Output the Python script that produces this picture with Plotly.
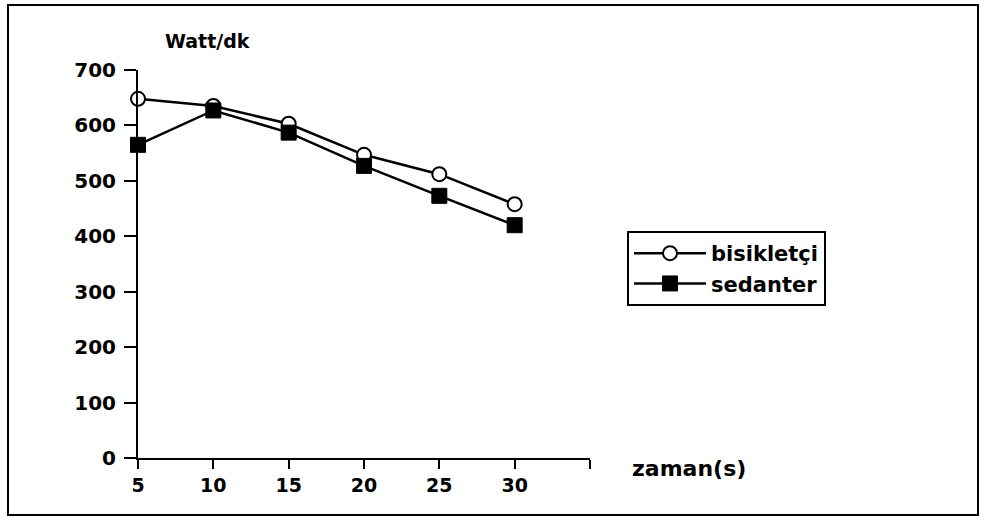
import plotly.graph_objects as go

zaman = [5, 10, 15, 20, 25, 30]
bisikletci = [648, 635, 603, 547, 512, 458]
sedanter = [565, 627, 587, 527, 473, 420]
x_tickvals = [5, 10, 15, 20, 25, 30, 35]
x_ticktext = ["5", "10", "15", "20", "25", "30", ""]
y_tickvals = [0, 100, 200, 300, 400, 500, 600, 700]

FONT = "DejaVu Sans, Arial, sans-serif"

fig = go.Figure()
fig.add_trace(go.Scatter(
    x=zaman, y=bisikletci, name="bisikletçi", mode="lines+markers",
    line=dict(color="black", width=2.5), cliponaxis=False,
    marker=dict(symbol="circle", size=14, color="white", line=dict(color="black", width=2)),
))
fig.add_trace(go.Scatter(
    x=zaman, y=sedanter, name="sedanter", mode="lines+markers",
    line=dict(color="black", width=2.5), cliponaxis=False,
    marker=dict(symbol="square", size=15, color="black", line=dict(color="black", width=1)),
))

L, R, T, B = 138, 590, 70, 458
W, H = 983, 523

def px2x(px):
    return (px - L) / (R - L)

def py2y(py):
    return (B - py) / (B - T)

bold = dict(family=FONT, color="black", weight="bold")

fig.update_layout(
    width=W, height=H,
    margin=dict(l=L, r=W - R, t=T, b=H - B),
    paper_bgcolor="white", plot_bgcolor="white",
    font=dict(family=FONT, color="black", size=18),
    showlegend=True,
    legend=dict(
        x=px2x(627), y=py2y(231), xanchor="left", yanchor="top",
        bgcolor="white", bordercolor="black", borderwidth=2,
        font=dict(size=21, **bold),
        itemwidth=72,
    ),
    xaxis=dict(
        range=[5, 35], tickvals=x_tickvals, ticktext=x_ticktext,
        showgrid=False, zeroline=False, showline=True, linecolor="black", linewidth=2,
        ticks="outside", ticklen=9, tickwidth=2, tickcolor="black",
        tickfont=dict(size=19, **bold),
    ),
    yaxis=dict(
        range=[0, 700], tickvals=y_tickvals,
        showgrid=False, zeroline=False, showline=True, linecolor="black", linewidth=2,
        ticks="outside", ticklen=12, tickwidth=2, tickcolor="black",
        ticklabelstandoff=4,
        tickfont=dict(size=20, **bold),
    ),
    annotations=[
        dict(text="Watt/dk", xref="paper", yref="paper",
             x=px2x(163), y=py2y(41), xanchor="left", yanchor="middle",
             showarrow=False, font=dict(size=19, **bold)),
        dict(text="zaman(s)", xref="paper", yref="paper",
             x=px2x(630), y=py2y(469), xanchor="left", yanchor="middle",
             showarrow=False, font=dict(size=22, **bold)),
    ],
    shapes=[
        dict(type="rect", xref="paper", yref="paper",
             x0=px2x(8), x1=px2x(978), y0=py2y(515), y1=py2y(5),
             line=dict(color="black", width=2), fillcolor="rgba(0,0,0,0)", layer="below"),
    ],
)

fig.write_html(
    "out.html",
    config={"displayModeBar": False},
    post_script="document.body.style.margin='0';document.body.style.padding='0';document.documentElement.style.overflow='hidden';",
)
